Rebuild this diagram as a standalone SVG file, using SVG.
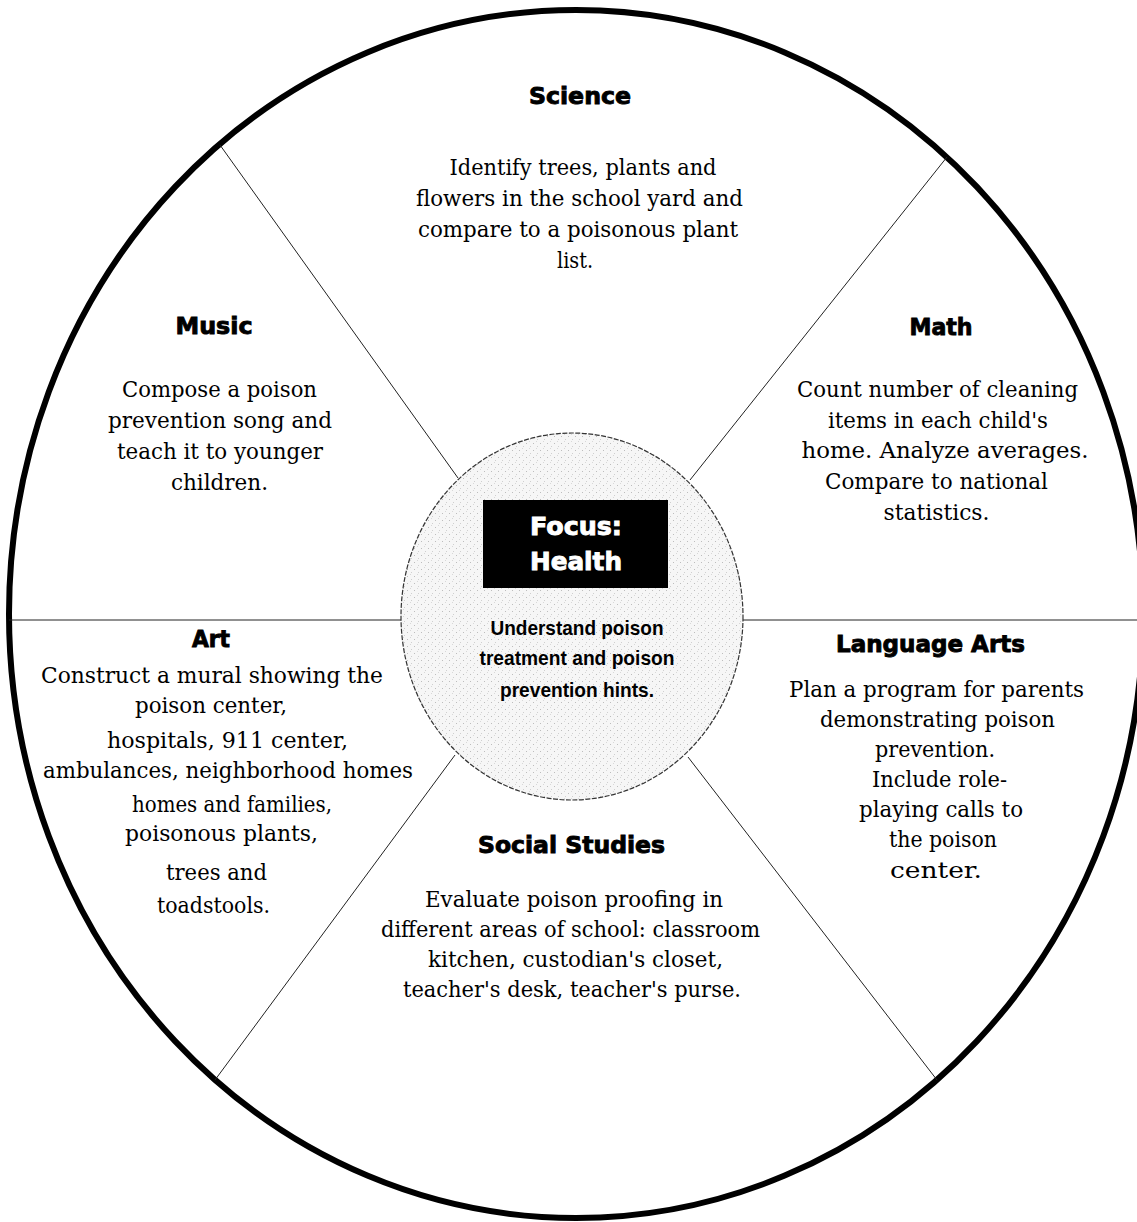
<svg xmlns="http://www.w3.org/2000/svg" width="1137" height="1222" viewBox="0 0 1137 1222">
<style>
.h{font-family:"DejaVu Sans","Liberation Sans",sans-serif;font-weight:bold;font-size:23px;fill:#000;stroke:#000;stroke-width:0.9;text-anchor:middle}
.b{font-family:"DejaVu Serif","Liberation Serif",serif;font-size:22px;fill:#000;text-anchor:middle}
.c{font-family:"Liberation Sans",Arial,sans-serif;font-weight:bold;font-size:21px;fill:#000;text-anchor:middle}
.f{font-family:"DejaVu Sans","Liberation Sans",sans-serif;font-weight:bold;font-size:25px;fill:#fff;stroke:#fff;stroke-width:0.9;text-anchor:middle}
.ln{stroke:#222;stroke-width:1;fill:none}
</style>
<defs>
<pattern id="stip" width="7" height="7" patternUnits="userSpaceOnUse">
<rect width="7" height="7" fill="#f6f6f6"/>
<rect x="1" y="2" width="1" height="1" fill="#bdbdbd"/>
<rect x="5" y="5" width="1" height="1" fill="#cfcfcf"/>
<rect x="4" y="0" width="1" height="1" fill="#d8d8d8"/>
</pattern>
</defs>
<rect width="1137" height="1222" fill="#fff"/>
<g id="wheel">
<ellipse cx="576" cy="614" rx="567" ry="604" fill="none" stroke="#000" stroke-width="6"/>
</g>
<g id="connectors">
<line class="ln" x1="9" y1="620" x2="401" y2="620"/>
<line class="ln" x1="743" y1="620" x2="1137" y2="620"/>
<line class="ln" x1="220" y1="145" x2="458" y2="478"/>
<line class="ln" x1="947" y1="157" x2="690" y2="480"/>
<line class="ln" x1="455" y1="755" x2="215" y2="1080"/>
<line class="ln" x1="688" y1="757" x2="937" y2="1080"/>
</g>
<g id="node-focus">
<ellipse cx="572" cy="616.5" rx="171" ry="183.5" fill="url(#stip)" stroke="#333" stroke-width="1.2" stroke-dasharray="5 1.5"/>
<rect x="483" y="500" width="185" height="88" fill="#000"/>
<text class="f" x="576" y="535" textLength="92" lengthAdjust="spacingAndGlyphs">Focus:</text>
<text class="f" x="576" y="570" textLength="92" lengthAdjust="spacingAndGlyphs">Health</text>
<text class="c" x="577" y="635" textLength="173" lengthAdjust="spacingAndGlyphs">Understand poison</text>
<text class="c" x="577" y="665" textLength="195" lengthAdjust="spacingAndGlyphs">treatment and poison</text>
<text class="c" x="577" y="697" textLength="154" lengthAdjust="spacingAndGlyphs">prevention hints.</text>
</g>
<g id="node-science">
<text class="h" x="580" y="104" textLength="102" lengthAdjust="spacingAndGlyphs">Science</text>
<text class="b" x="583" y="175" textLength="267" lengthAdjust="spacingAndGlyphs">Identify trees, plants and</text>
<text class="b" x="579.5" y="206" textLength="327" lengthAdjust="spacingAndGlyphs">flowers in the school yard and</text>
<text class="b" x="578" y="237" textLength="320" lengthAdjust="spacingAndGlyphs">compare to a poisonous plant</text>
<text class="b" x="575" y="268" textLength="36" lengthAdjust="spacingAndGlyphs">list.</text>
</g>
<g id="node-music">
<text class="h" x="214" y="334" textLength="77" lengthAdjust="spacingAndGlyphs">Music</text>
<text class="b" x="219.5" y="397" textLength="195" lengthAdjust="spacingAndGlyphs">Compose a poison</text>
<text class="b" x="220" y="428" textLength="224" lengthAdjust="spacingAndGlyphs">prevention song and</text>
<text class="b" x="220" y="459" textLength="206" lengthAdjust="spacingAndGlyphs">teach it to younger</text>
<text class="b" x="219.5" y="490" textLength="97" lengthAdjust="spacingAndGlyphs">children.</text>
</g>
<g id="node-math">
<text class="h" x="941" y="335" textLength="63" lengthAdjust="spacingAndGlyphs">Math</text>
<text class="b" x="937.5" y="397" textLength="281" lengthAdjust="spacingAndGlyphs">Count number of cleaning</text>
<text class="b" x="938" y="428" textLength="220" lengthAdjust="spacingAndGlyphs">items in each child's</text>
<text class="b" x="945" y="458" textLength="287" lengthAdjust="spacingAndGlyphs">home. Analyze averages.</text>
<text class="b" x="936.5" y="489" textLength="223" lengthAdjust="spacingAndGlyphs">Compare to national</text>
<text class="b" x="936.5" y="520" textLength="106" lengthAdjust="spacingAndGlyphs">statistics.</text>
</g>
<g id="node-art">
<text class="h" x="211" y="647" textLength="38" lengthAdjust="spacingAndGlyphs">Art</text>
<text class="b" x="212" y="683" textLength="342" lengthAdjust="spacingAndGlyphs">Construct a mural showing the</text>
<text class="b" x="211" y="713" textLength="152" lengthAdjust="spacingAndGlyphs">poison center,</text>
<text class="b" x="227.5" y="748" textLength="241" lengthAdjust="spacingAndGlyphs">hospitals, 911 center,</text>
<text class="b" x="228" y="778" textLength="370" lengthAdjust="spacingAndGlyphs">ambulances, neighborhood homes</text>
<text class="b" x="232" y="812" textLength="200" lengthAdjust="spacingAndGlyphs">homes and families,</text>
<text class="b" x="221.5" y="841" textLength="193" lengthAdjust="spacingAndGlyphs">poisonous plants,</text>
<text class="b" x="216.5" y="880" textLength="101" lengthAdjust="spacingAndGlyphs">trees and</text>
<text class="b" x="213.5" y="913" textLength="113" lengthAdjust="spacingAndGlyphs">toadstools.</text>
</g>
<g id="node-language-arts">
<text class="h" x="930.5" y="652" textLength="189" lengthAdjust="spacingAndGlyphs">Language Arts</text>
<text class="b" x="936.5" y="697" textLength="295" lengthAdjust="spacingAndGlyphs">Plan a program for parents</text>
<text class="b" x="937.5" y="727" textLength="235" lengthAdjust="spacingAndGlyphs">demonstrating poison</text>
<text class="b" x="935" y="757" textLength="120" lengthAdjust="spacingAndGlyphs">prevention.</text>
<text class="b" x="939.5" y="787" textLength="135" lengthAdjust="spacingAndGlyphs">Include role-</text>
<text class="b" x="941" y="817" textLength="164" lengthAdjust="spacingAndGlyphs">playing calls to</text>
<text class="b" x="943" y="847" textLength="108" lengthAdjust="spacingAndGlyphs">the poison</text>
<text class="b" x="936" y="878" textLength="92" lengthAdjust="spacingAndGlyphs">center.</text>
</g>
<g id="node-social-studies">
<text class="h" x="571.5" y="853" textLength="187" lengthAdjust="spacingAndGlyphs">Social Studies</text>
<text class="b" x="574" y="907" textLength="298" lengthAdjust="spacingAndGlyphs">Evaluate poison proofing in</text>
<text class="b" x="570.5" y="937" textLength="379" lengthAdjust="spacingAndGlyphs">different areas of school: classroom</text>
<text class="b" x="575.5" y="967" textLength="295" lengthAdjust="spacingAndGlyphs">kitchen, custodian's closet,</text>
<text class="b" x="572" y="997" textLength="338" lengthAdjust="spacingAndGlyphs">teacher's desk, teacher's purse.</text>
</g>
</svg>
